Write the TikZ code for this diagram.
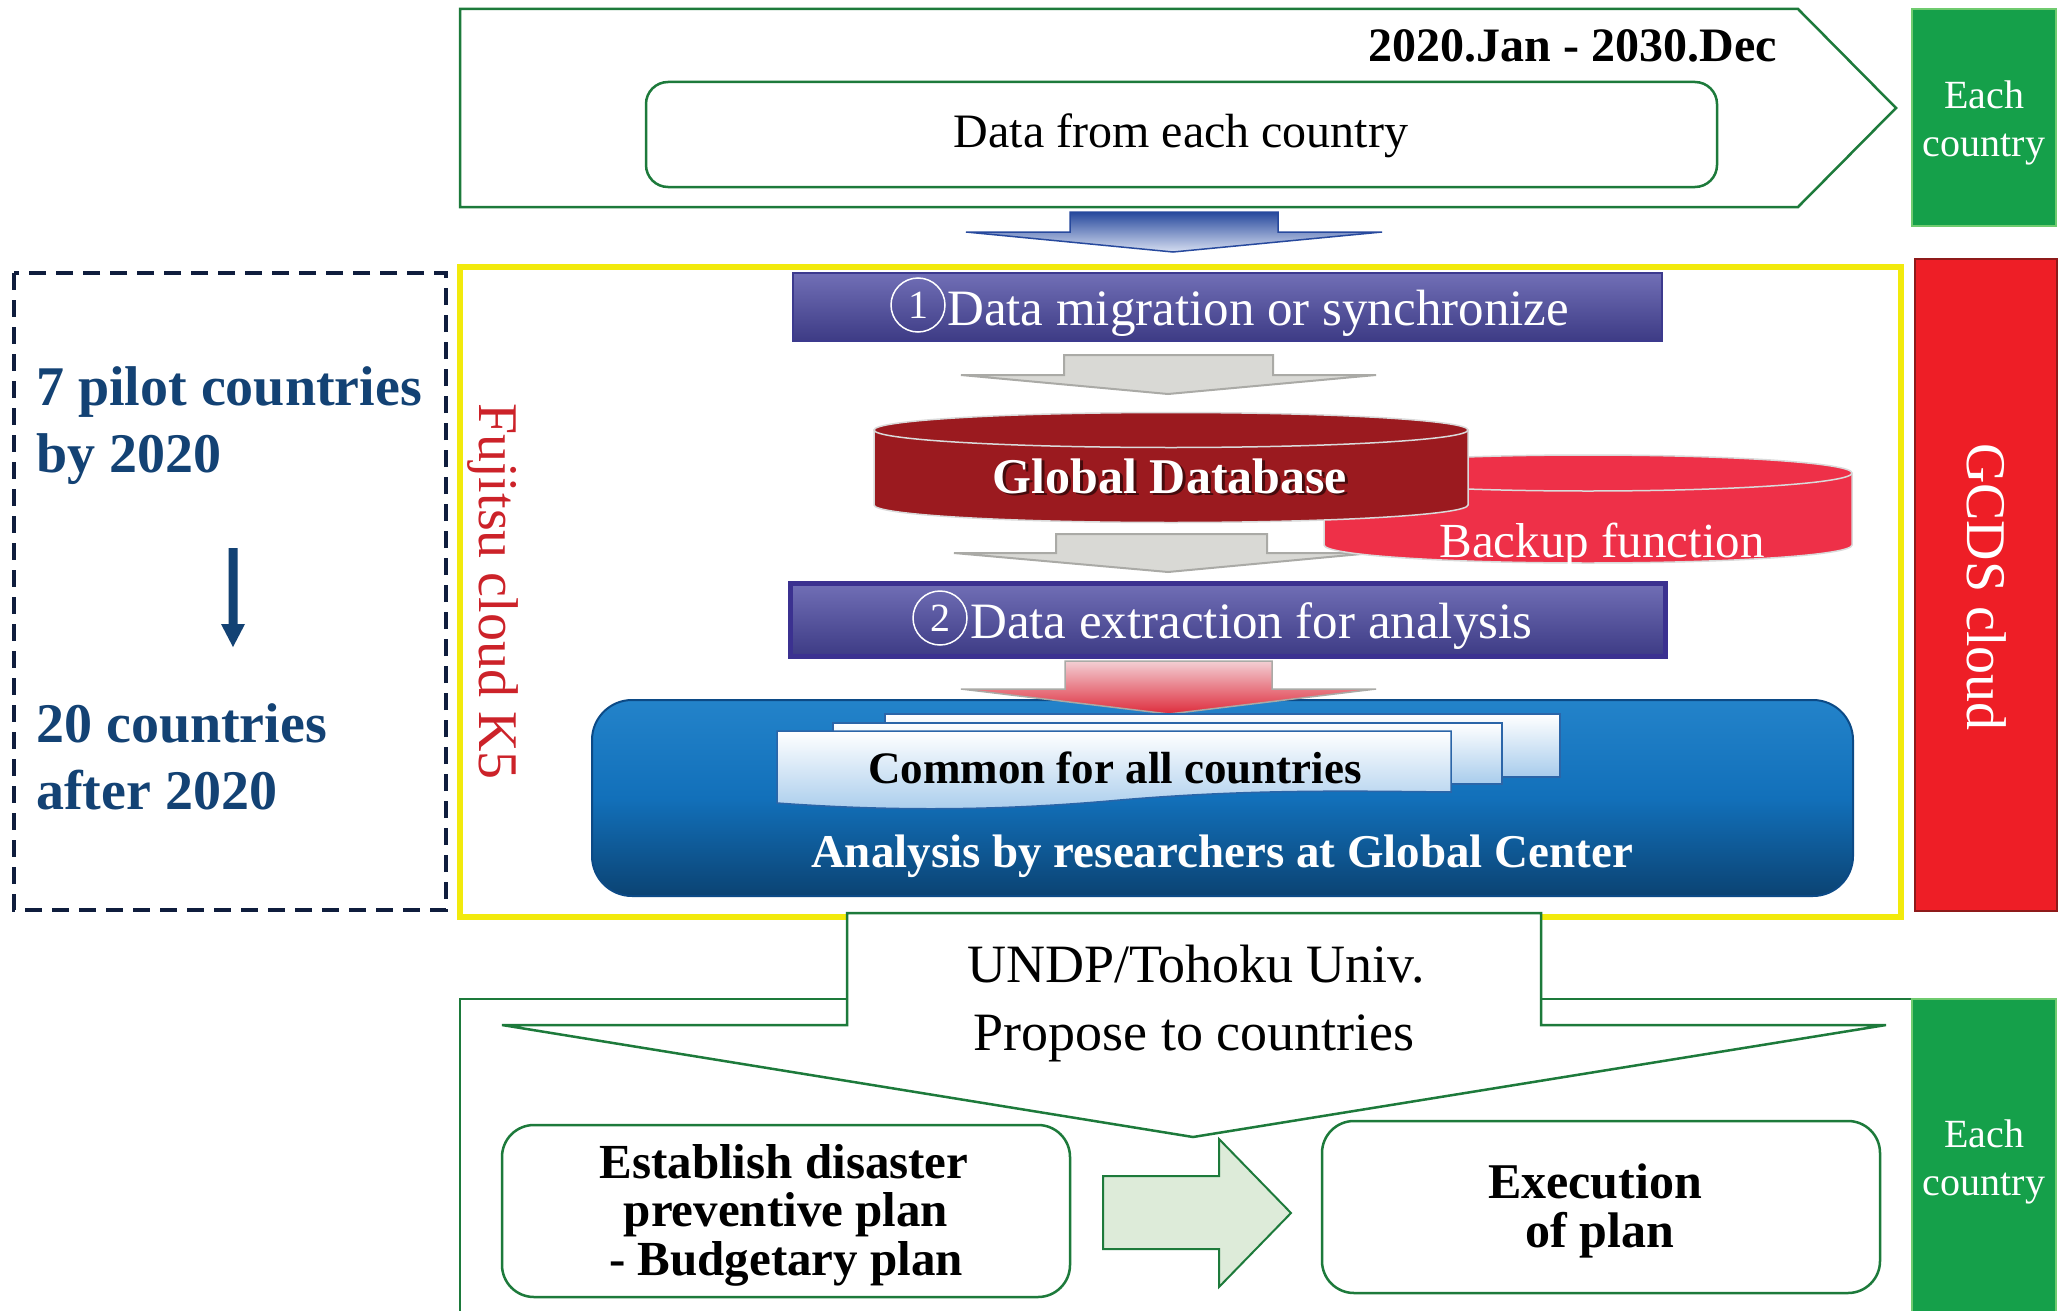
\documentclass[tikz,border=0pt]{standalone}
\usepackage{fontspec}
\setmainfont{Liberation Serif}
\newcommand\myfs[1]{\fontsize{#1}{#1}\selectfont}
\definecolor{tgreen}{HTML}{1D7A3B}
\definecolor{boxgreen}{HTML}{15A04A}
\definecolor{boxgreenline}{HTML}{6FCB6F}
\definecolor{arrowblue}{HTML}{27499D}
\definecolor{arrowbluelight}{HTML}{D6DEF1}
\definecolor{dnavy}{HTML}{0F1D3D}
\definecolor{tnavy}{HTML}{134274}
\definecolor{yel}{HTML}{F2EA0C}
\definecolor{gcdsred}{HTML}{EE1E26}
\definecolor{gcdsline}{HTML}{8E1A1A}
\definecolor{fujired}{HTML}{CC2229}
\definecolor{purptop}{HTML}{716FB6}
\definecolor{purpbot}{HTML}{3D3B85}
\definecolor{purpline}{HTML}{3C3A8E}
\definecolor{purpline2}{HTML}{3B3190}
\definecolor{grayfill}{HTML}{D9D9D5}
\definecolor{grayline}{HTML}{AAAAA6}
\definecolor{dbred}{HTML}{9B1A1F}
\definecolor{bkred}{HTML}{EE3048}
\definecolor{cylline}{HTML}{DADADA}
\definecolor{bluetop}{HTML}{2383CA}
\definecolor{bluemid}{HTML}{1270BA}
\definecolor{bluebot}{HTML}{0B4373}
\definecolor{blueline}{HTML}{0C4A86}
\definecolor{redtop}{HTML}{F3CFD4}
\definecolor{redbot}{HTML}{DE2C3C}
\definecolor{pageblue}{HTML}{A8CCEC}
\definecolor{pageline}{HTML}{2B65A8}
\definecolor{lgreen}{HTML}{DDEBD9}
\begin{document}
\begin{tikzpicture}[x=1pt,y=-1pt,
  txt/.style={inner sep=0pt, anchor=base},
  gline/.style={draw=tgreen, line width=2.5pt, fill=white},
  grayarrow/.style={fill=grayfill, draw=grayline, line width=2pt},
  purpbox/.style={top color=purptop, bottom color=purpbot},
  numcirc/.style={circle, draw=white, line width=1.5pt, minimum size=54pt, inner sep=0pt, text=white, font=\myfs{40}},
  pagebox/.style={top color=white, bottom color=pageblue, draw=pageline, line width=1.5pt},
  navytxt/.style={txt, anchor=base west, text=tnavy, font=\myfs{56}\bfseries},
  eachtxt/.style={txt, text=white, font=\myfs{40}},
  cyl/.style={draw=cylline, line width=1.5pt}]
\clip (0,0) rectangle (2069,1311);
\fill[white] (0,0) rectangle (2069,1311);

% ---------- top: data source ----------
\draw[gline] (460,9) -- (1798,9) -- (1896,108) -- (1798,207) -- (460,207) -- cycle;
\node[txt, anchor=base east, font=\myfs{48}\bfseries] (period) at (1777,62) {2020.Jan - 2030.Dec};
\draw[gline, rounded corners=22pt] (646,82) rectangle (1717,187);
\node[txt, font=\myfs{48}] (datafrom) at (1181,148) {Data from each country};
\draw[fill=boxgreen, draw=boxgreenline, line width=2pt] (1912,9) rectangle (2056,226);
\node[eachtxt] (eachTa) at (1984,109) {Each};
\node[eachtxt] (eachTb) at (1984,157) {country};

% blue down arrow
\draw[draw=arrowblue, line width=1.5pt, top color=arrowblue, bottom color=arrowbluelight]
  (1070,212) -- (1278,212) -- (1278,232) -- (1382,232) -- (1173,252) -- (966,232) -- (1070,232) -- cycle;

% ---------- left dashed box ----------
\draw[dnavy, line width=4pt, dash pattern=on 17pt off 10pt] (14,273) rectangle (446,910);
\node[navytxt] (pilotA) at (36,405) {7 pilot countries};
\node[navytxt] (pilotB) at (36,472) {by 2020};
\node[navytxt] (twentyA) at (36,742) {20 countries};
\node[navytxt] (twentyB) at (36,809) {after 2020};
\fill[tnavy] (228.5,548) -- (237.5,548) -- (237.5,624) -- (245,624) -- (233,647) -- (221,624) -- (228.5,624) -- cycle;

% ---------- cloud frames ----------
\draw[yel, line width=6pt] (460,267) rectangle (1901,917);
\draw[fill=gcdsred, draw=gcdsline, line width=1.5pt] (1915,259) rectangle (2057,911);
\node[txt, anchor=base west, rotate=-90, text=white, font=\myfs{56}] (gcds) at (1967,443) {GCDS cloud};
\node[txt, anchor=base west, rotate=-90, text=fujired, font=\myfs{56}] (fujitsu) at (479,403) {Fujitsu cloud K5};

% ---------- step 1 ----------
\draw[purpbox, draw=purpline, line width=2pt] (793,273) rectangle (1662,341);
\node[numcirc] (one) at (918,305) {1};
\node[txt, anchor=base west, text=white, font=\myfs{51}] (mig) at (947,325) {Data migration or synchronize};

% gray arrows
\draw[grayarrow] (1064,355) -- (1273,355) -- (1273,375) -- (1376,375) -- (1168,394) -- (961,375) -- (1064,375) -- cycle;
\draw[grayarrow] (1056,534) -- (1267,534) -- (1267,553) -- (1372,553) -- (1168,572) -- (954,553) -- (1056,553) -- cycle;

% backup cylinder
\path[fill=bkred] (1324,473) -- (1324,545) arc[start angle=180, end angle=360, x radius=264pt, y radius=18pt] -- (1852,473) arc[start angle=0, end angle=180, x radius=264pt, y radius=18pt] -- cycle;
\draw[cyl] (1324,473) -- (1324,545) arc[start angle=180, end angle=360, x radius=264pt, y radius=18pt] -- (1852,473);
\draw[cyl] (1588,473) ellipse [x radius=264pt, y radius=18pt];
\node[txt, text=white, font=\myfs{49}] (backup) at (1602,557) {Backup function};

% global database cylinder
\path[fill=dbred] (874,430) -- (874,505) arc[start angle=180, end angle=360, x radius=297pt, y radius=17.5pt] -- (1468,430) arc[start angle=0, end angle=180, x radius=297pt, y radius=17.5pt] -- cycle;
\draw[cyl] (874,430) -- (874,505) arc[start angle=180, end angle=360, x radius=297pt, y radius=17.5pt] -- (1468,430);
\draw[cyl] (1171,430) ellipse [x radius=297pt, y radius=17.5pt];
\node[txt, text=black, opacity=0.55, font=\myfs{50}\bfseries] (dbshadow) at (1173,495) {Global Database};
\node[txt, text=white, font=\myfs{50}\bfseries] (db) at (1170,493) {Global Database};

% ---------- step 2 ----------
\draw[purpbox, draw=purpline2, line width=5pt] (790,583) rectangle (1665,656);
\node[numcirc] (two) at (940,618) {2};
\node[txt, anchor=base west, text=white, font=\myfs{51}] (extr) at (970,638) {Data extraction for analysis};

% analysis box
\draw[top color=bluetop, bottom color=bluebot, middle color=bluemid, draw=blueline, line width=2pt, rounded corners=40pt] (592,700) rectangle (1853,896);

% red arrow
\draw[top color=redtop, bottom color=redbot, draw=grayline, line width=1.5pt]
  (1065,661) -- (1272,661) -- (1272,689) -- (1376,689) -- (1169,714) -- (961,689) -- (1065,689) -- cycle;

% document stack
\draw[pagebox] (885,714) rectangle (1560,777);
\draw[pagebox] (833,723) rectangle (1502,784);
\draw[pagebox] (777,731) -- (777,803) .. controls (900,812) and (1010,810) .. (1120,800) .. controls (1250,789) and (1350,791) .. (1451,792) -- (1451,731) -- cycle;
\node[txt, font=\myfs{45}\bfseries] (common) at (1115,783) {Common for all countries};
\node[txt, text=white, font=\myfs{47}\bfseries] (analysis) at (1222,867) {Analysis by researchers at Global Center};

% ---------- bottom: proposal to countries ----------
\draw[tgreen, line width=2.5pt] (460,1330) -- (460,999) -- (1912,999);
\draw[gline] (847,913) -- (1541,913) -- (1541,1025) -- (1886,1025) -- (1193,1137) -- (502,1025) -- (847,1025) -- cycle;
\node[txt, font=\myfs{54}] (undp) at (1196,982) {UNDP/Tohoku Univ.};
\node[txt, font=\myfs{54}] (propose) at (1194,1050) {Propose to countries};

\draw[gline, rounded corners=32pt] (502,1125) rectangle (1070,1297);
\node[txt, font=\myfs{49}\bfseries] (estA) at (784,1178) {Establish disaster};
\node[txt, font=\myfs{49}\bfseries] (estB) at (786,1226) {preventive plan};
\node[txt, font=\myfs{49}\bfseries] (estC) at (786,1275) {- Budgetary plan};

\draw[fill=lgreen, draw=tgreen, line width=2pt] (1103,1176) -- (1219,1176) -- (1219,1139) -- (1291,1213) -- (1219,1287) -- (1219,1249) -- (1103,1249) -- cycle;

\draw[gline, rounded corners=32pt] (1322,1121) rectangle (1880,1293);
\node[txt, font=\myfs{50}\bfseries] (execA) at (1595,1198) {Execution};
\node[txt, font=\myfs{50}\bfseries] (execB) at (1600,1247) {of plan};

\draw[fill=boxgreen, draw=boxgreenline, line width=2pt] (1912,999) rectangle (2056,1330);
\node[eachtxt] (eachBa) at (1984,1147) {Each};
\node[eachtxt] (eachBb) at (1984,1195) {country};
\end{tikzpicture}
\end{document}
